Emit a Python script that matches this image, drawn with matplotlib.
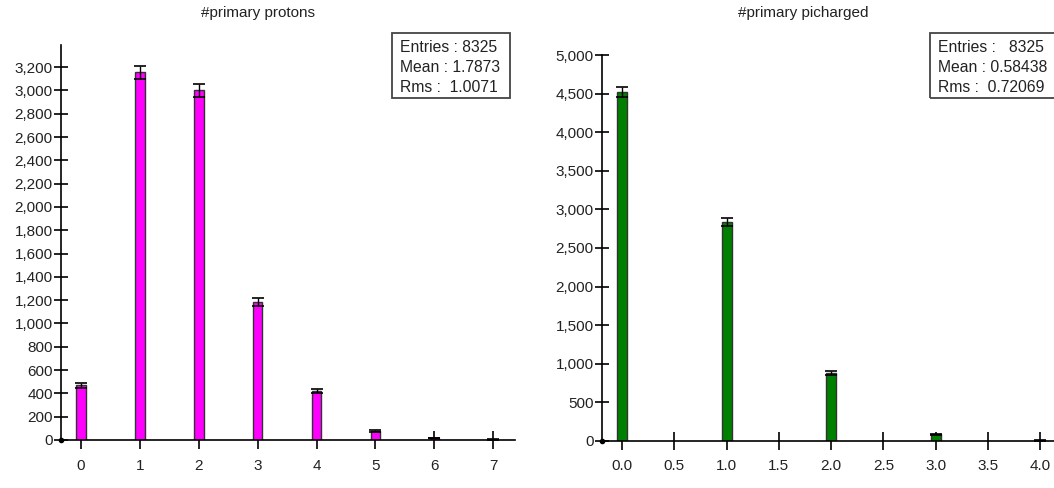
import numpy as np
import matplotlib
matplotlib.use("Agg")
from matplotlib import pyplot as plt
from matplotlib.patches import Rectangle
from matplotlib.ticker import FuncFormatter, MultipleLocator

plt.rcParams['font.family'] = ['Liberation Sans', 'DejaVu Sans']

# histogram contents
proton_bins = [0, 1, 2, 3, 4, 5, 6, 7]
proton_counts = [470, 3155, 3000, 1185, 420, 75, 17, 3]
pion_bins = [0.0, 1.0, 2.0, 3.0, 4.0]
pion_counts = [4519, 2840, 880, 82, 4]

proton_stats = ["Entries : 8325", "Mean : 1.7873", "Rms :  1.0071"]
pion_stats = ["Entries :   8325", "Mean : 0.58438", "Rms :  0.72069"]

W, H = 1054, 488
TXT = "#222222"
comma = FuncFormatter(lambda v, _: f"{v:,.0f}")


def px(x, y):
    return x / W, 1 - y / H


def draw_hist(ax, bins, counts, width, color):
    counts = np.asarray(counts, dtype=float)
    ax.set_axisbelow(True)
    ax.bar(bins, counts, width=width, color=color, edgecolor="#333333",
           linewidth=1.0, zorder=2)
    ax.errorbar(bins, counts, yerr=np.sqrt(counts), fmt="none",
                ecolor="black", elinewidth=1.0, capsize=4, capthick=1.2,
                zorder=3)
    for side in ("top", "right"):
        ax.spines[side].set_visible(False)
    for side in ("left", "bottom"):
        ax.spines[side].set_linewidth(1.2)
    ax.plot([0], [0], "o", ms=3, color="black", transform=ax.transAxes,
            clip_on=False, zorder=4)
    ax.tick_params(labelsize=11, labelcolor=TXT, colors="black", width=1.2)
    ax.tick_params(axis="y", direction="inout", length=10, pad=1)
    ax.tick_params(axis="x", direction="inout", length=13, pad=7)
    ax.yaxis.set_major_formatter(comma)


def stats_box(fig, x0, y0, x1, y1, lines):
    fx0, fy1 = px(x0, y1)
    fx1, fy0 = px(x1, y0)
    fig.patches.append(Rectangle((fx0, fy1), fx1 - fx0, fy0 - fy1,
                                 transform=fig.transFigure, fill=False,
                                 ec="#444444", lw=1.3))
    for i, line in enumerate(lines):
        fig.text(*px(x0 + 8, y0 + 14 + 20.5 * i), line, ha="left",
                 va="center", fontsize=11.3, color=TXT)


fig = plt.figure(figsize=(W / 100, H / 100), dpi=100)

ax1 = fig.add_axes([0.0579, 0.0984, 0.4307, 0.8094])
draw_hist(ax1, proton_bins, proton_counts, 0.16, "#ff00ff")
ax1.set_xlim(-0.34, 7.37)
ax1.set_ylim(0, 3390)
ax1.yaxis.set_major_locator(MultipleLocator(200))
ax1.set_xticks(proton_bins)
fig.text(*px(258, 13), "#primary protons", ha="center", va="center",
         fontsize=11, color=TXT)
stats_box(fig, 392, 33, 510, 98, proton_stats)

ax2 = fig.add_axes([0.5712, 0.0969, 0.4288, 0.790])
draw_hist(ax2, pion_bins, pion_counts, 0.095, "#008000")
ax2.set_xlim(-0.19, 4.13)
ax2.set_ylim(0, 5000)
ax2.yaxis.set_major_locator(MultipleLocator(500))
ax2.set_xticks(np.arange(0, 4.01, 0.5))
ax2.xaxis.set_major_formatter(FuncFormatter(lambda v, _: f"{v:.1f}"))
fig.text(*px(803, 13), "#primary picharged", ha="center", va="center",
         fontsize=11, color=TXT)
stats_box(fig, 930, 33, 1062, 98, pion_stats)

fig.savefig("out.png", dpi=100)
